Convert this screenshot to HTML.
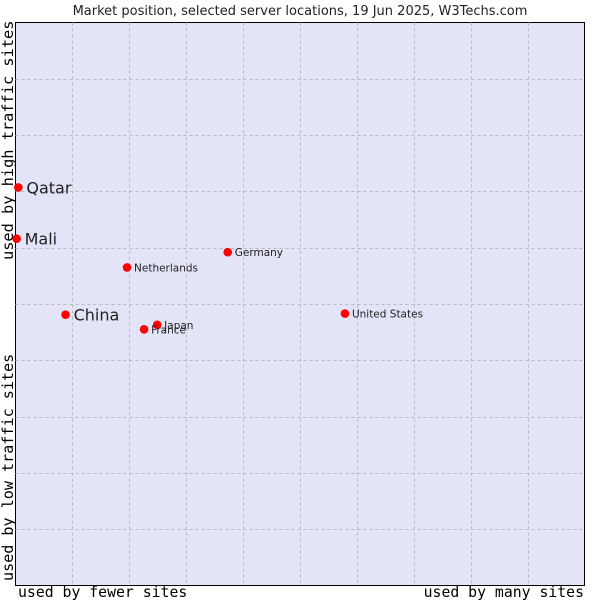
<!DOCTYPE html>
<html><head><meta charset="utf-8"><style>
html,body{margin:0;padding:0;background:#fff;width:600px;height:600px;overflow:hidden}
svg{display:block}
</style></head><body>
<svg id="chart" width="600" height="600">
<text x="300" y="15" text-anchor="middle" font-family="DejaVu Sans, sans-serif" font-size="13" fill="#222">Market position, selected server locations, 19 Jun 2025, W3Techs.com</text>
<rect x="15.5" y="22.5" width="569" height="563" fill="#e3e4f7" stroke="#000" stroke-width="1"/>
<g id="grid"></g>
<g id="points"></g>
<text x="18" y="597" font-family="DejaVu Sans Mono, Liberation Mono, monospace" font-size="14.8" fill="#000">used by fewer sites</text>
<text x="584" y="597" text-anchor="end" font-family="DejaVu Sans Mono, Liberation Mono, monospace" font-size="14.8" fill="#000">used by many sites</text>
<text transform="translate(13,260) rotate(-90)" font-family="DejaVu Sans Mono, Liberation Mono, monospace" font-size="15.3" fill="#000">used by high traffic sites</text>
<text transform="translate(13,581) rotate(-90)" font-family="DejaVu Sans Mono, Liberation Mono, monospace" font-size="15.1" fill="#000">used by low traffic sites</text>
</svg>
<script>
const names = ["Qatar","Mali","China","Netherlands","Germany","United States","Japan","France"];
const xValues = [0.5,0.2,8.8,19.6,37.3,57.9,24.9,22.6];
const yValues = [70.7,61.6,48.1,56.5,59.2,48.3,46.3,45.5];
const bigLabel = [true,true,true,false,false,false,false,false];
const NS="http://www.w3.org/2000/svg";
const L=15.5,T=22.5,W=569,H=563;
const xs=v=>L+v/100*W, ys=v=>T+H-v/100*H;
const grid=document.getElementById('grid');
for(let i=1;i<10;i++){
  const v=document.createElementNS(NS,'line');
  const x=Math.round(L+i*W/10)+0.5;
  v.setAttribute('x1',x);v.setAttribute('x2',x);v.setAttribute('y1',T);v.setAttribute('y2',T+H);
  v.setAttribute('stroke','#bbb');v.setAttribute('stroke-dasharray','3,3');
  
  
  grid.appendChild(v);
  const h=document.createElementNS(NS,'line');
  const y=Math.round(T+i*H/10)+0.5;
  h.setAttribute('y1',y);h.setAttribute('y2',y);h.setAttribute('x1',L);h.setAttribute('x2',L+W);
  h.setAttribute('stroke','#bbb');h.setAttribute('stroke-dasharray','3,3');
  
  
  grid.appendChild(h);
}
const pts=document.getElementById('points');
names.forEach((n,i)=>{
  const x=xs(xValues[i]),y=ys(yValues[i]);
  const c=document.createElementNS(NS,'circle');
  c.setAttribute('cx',x);c.setAttribute('cy',y);c.setAttribute('r',4.3);c.setAttribute('fill','#f00');
  
  
  pts.appendChild(c);
  const t=document.createElementNS(NS,'text');
  t.setAttribute('x',x+(bigLabel[i]?8:7));t.setAttribute('y',y+(bigLabel[i]?6:4));
  t.setAttribute('font-family','DejaVu Sans, sans-serif');
  t.setAttribute('font-size',bigLabel[i]?16:10.5);t.setAttribute('fill','#222');
  t.textContent=n;
  
  
  pts.appendChild(t);
});
</script>
</body></html>
